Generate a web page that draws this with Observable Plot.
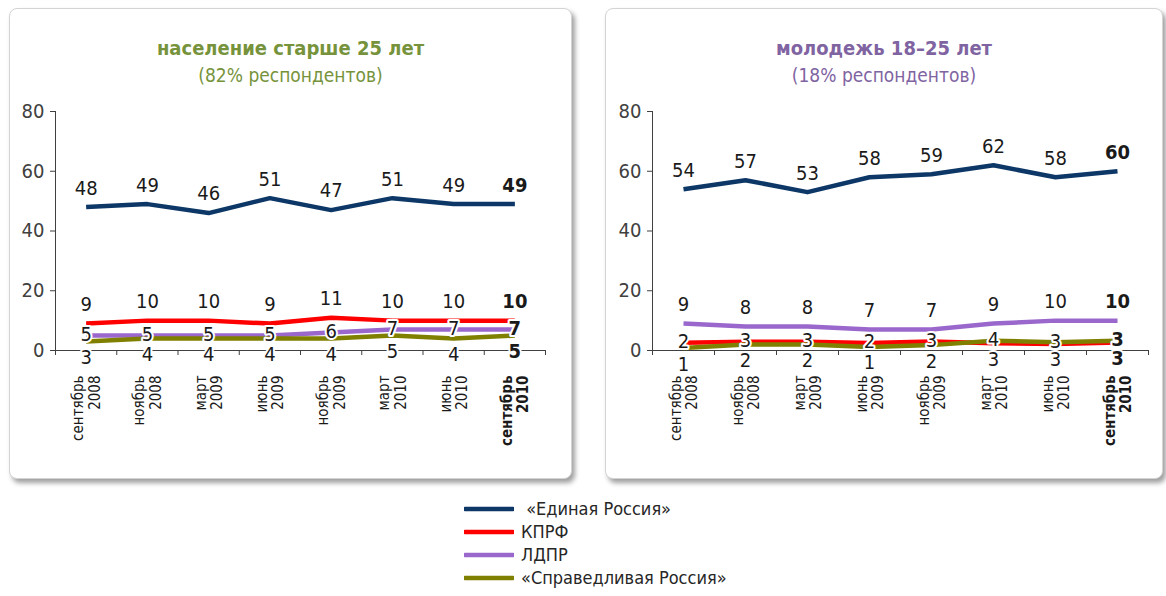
<!DOCTYPE html>
<html><head><meta charset="utf-8">
<script src="https://cdn.jsdelivr.net/npm/d3@7"></script>
<script src="https://cdn.jsdelivr.net/npm/@observablehq/plot@0.6"></script>
<style>
html,body{margin:0;padding:0;background:#fff}
body{width:1166px;height:596px;position:relative;overflow:hidden;font-family:"Liberation Sans Narrow","DejaVu Sans Condensed","Roboto",sans-serif;color:#262626}
.panel{position:absolute;top:8px;height:471px;box-sizing:border-box;background:#fff;border:1px solid #d4d4d4;border-radius:8px;box-shadow:3px 4px 5px rgba(0,0,0,0.38)}
.title{position:absolute;left:0;right:0;text-align:center;top:26px;font-size:20px;font-weight:bold;line-height:26px}
.sub{position:absolute;left:0;right:0;text-align:center;top:53px;font-size:19px;line-height:26px}
.chart{position:absolute;left:0;top:86px}
.ticks{position:absolute;left:0;top:366px}
.legend{position:absolute;left:464px;top:497px;font-size:18px;line-height:23px;color:#262626}
.legend div{display:flex;align-items:center;height:23px}
.legend svg{margin-right:7px}
</style></head>
<body>
<div class="panel" id="p1" style="left:9px;width:563px">
  <div class="title" style="color:#76933c">население старше 25 лет</div>
  <div class="sub" style="color:#76933c">(82% респондентов)</div>
  <div class="chart" id="c1"></div>
  <div class="ticks" id="t1"></div>
</div>
<div class="panel" id="p2" style="left:605px;width:558px">
  <div class="title" style="color:#8064a2">молодежь 18–25 лет</div>
  <div class="sub" style="color:#8064a2">(18% респондентов)</div>
  <div class="chart" id="c2"></div>
  <div class="ticks" id="t2"></div>
</div>
<div class="legend" id="legend"></div>
<script>
// Categories (tick labels)
const months = ["сентябрь","ноябрь","март","июнь","ноябрь","март","июнь","сентябрь"];
const years  = ["2008","2008","2009","2009","2009","2010","2010","2010"];
const yTicks = [0, 20, 40, 60, 80];

// Series names and colours
const seriesNames = ["«Единая Россия»", "КПРФ", "ЛДПР", "«Справедливая Россия»"];
const seriesColors = ["#0c3766", "#ff0000", "#9a68cc", "#808000"];

// население старше 25 лет
const erOld   = [48, 49, 46, 51, 47, 51, 49, 49];
const kprfOld = [9, 10, 10, 9, 11, 10, 10, 10];
const ldprOld = [5, 5, 5, 5, 6, 7, 7, 7];
const srOld   = [3, 4, 4, 4, 4, 5, 4, 5];

// молодежь 18–25 лет (printed values)
const erYoung   = [54, 57, 53, 58, 59, 62, 58, 60];
const ldprYoung = [9, 8, 8, 7, 7, 9, 10, 10];
const kprfYoung = [2, 3, 3, 2, 3, 3, 3, 3];
const srYoung   = [1, 2, 2, 1, 2, 4, 3, 3];
// молодежь: line heights (the two lines cross)
const kprfYoungLine = [2.6, 2.9, 2.9, 2.5, 3.0, 2.4, 2.2, 2.7];
const srYoungLine   = [0.8, 2.0, 2.0, 1.2, 1.8, 3.3, 2.8, 3.3];

const FONT = '"Liberation Sans Narrow","DejaVu Sans Condensed",sans-serif';
const idx = d3.range(months.length);

function drawPanel(el, tickEl, width, ml, mr, series, labels) {
  const lineRows = [];
  series.forEach((s, k) => s.values.forEach((v, i) => lineRows.push({k, i, v, color: s.color})));
  const labRows = [];
  labels.forEach(l => l.values.forEach((v, i) => labRows.push({i, v, t: String(l.labels[i]), mode: l.mode(i)})));
  const dyOf = {above: -19, on: -1, below: 16};
  const marks = [];
  marks.push(Plot.lineY(lineRows, {x: d => d.i + 0.5, y: "v", z: "k", stroke: "color", strokeWidth: 4.5, strokeLinejoin: "round", strokeLinecap: "butt"}));
  for (const mode of ["above", "on", "below"]) {
    const halo = mode !== "above";
    for (const bold of [false, true]) {
      const rows = labRows.filter(d => d.mode === mode && ((d.i === 7) === bold));
      marks.push(Plot.text(rows, {
        x: d => d.i + 0.5, y: "v", text: "t", dy: dyOf[mode],
        fontSize: 20, fontWeight: bold ? "bold" : "normal", fill: "#1a1a1a",
        fontFamily: FONT,
        stroke: halo ? "white" : null, strokeWidth: halo ? 4 : null
      }));
    }
  }
  const svg = Plot.plot({
    width, height: 280,
    marginLeft: ml, marginRight: mr, marginTop: 16, marginBottom: 25,
    style: {fontFamily: FONT, fontSize: "20px", color: "#404040", background: "transparent", overflow: "visible"},
    x: {type: "linear", domain: [0, 8], ticks: d3.range(9), tickSize: 5, tickFormat: () => "", line: true, label: null},
    y: {domain: [0, 80], ticks: yTicks, tickSize: 5, tickPadding: 6, line: true, label: null},
    marks
  });
  el.appendChild(svg);

  // rotated category labels (same x scale), anchored at the top of their own frame
  const tmarks = [];
  for (const bold of [false, true]) {
    tmarks.push(Plot.text(idx.filter(i => (i === 7) === bold), {
      x: i => i + 0.5, frameAnchor: "top", text: i => months[i] + "\n" + years[i],
      rotate: -90, textAnchor: "end", lineAnchor: "middle", lineHeight: 1.1,
      fontSize: 15, fontWeight: bold ? "bold" : "normal", fill: "#1a1a1a", fontFamily: FONT
    }));
  }
  const tsvg = Plot.plot({
    width, height: 80,
    marginLeft: ml, marginRight: mr, marginTop: 0, marginBottom: 0,
    style: {fontFamily: FONT, background: "transparent", overflow: "visible"},
    x: {type: "linear", domain: [0, 8], axis: null},
    y: {axis: null},
    marks: tmarks
  });
  tickEl.appendChild(tsvg);
}

drawPanel(document.getElementById("c1"), document.getElementById("t1"), 561, 45, 26,
  [
    {values: erOld, color: seriesColors[0]},
    {values: kprfOld, color: seriesColors[1]},
    {values: ldprOld, color: seriesColors[2]},
    {values: srOld, color: seriesColors[3]}
  ],
  [
    {values: erOld, labels: erOld, mode: () => "above"},
    {values: kprfOld, labels: kprfOld, mode: () => "above"},
    {values: ldprOld, labels: ldprOld, mode: () => "on"},
    {values: srOld, labels: srOld, mode: () => "below"}
  ]);

drawPanel(document.getElementById("c2"), document.getElementById("t2"), 556, 46, 14,
  [
    {values: erYoung, color: seriesColors[0]},
    {values: kprfYoungLine, color: seriesColors[1]},
    {values: ldprYoung, color: seriesColors[2]},
    {values: srYoungLine, color: seriesColors[3]}
  ],
  [
    {values: erYoung, labels: erYoung, mode: () => "above"},
    {values: ldprYoung, labels: ldprYoung, mode: () => "above"},
    {values: kprfYoungLine, labels: kprfYoung, mode: i => kprfYoungLine[i] >= srYoungLine[i] ? "on" : "below"},
    {values: srYoungLine, labels: srYoung, mode: i => srYoungLine[i] > kprfYoungLine[i] ? "on" : "below"}
  ]);

// Legend
const lg = document.getElementById("legend");
seriesNames.forEach((n, k) => {
  const row = document.createElement("div");
  row.innerHTML = `<svg width="50" height="8"><line x1="1" y1="4" x2="49" y2="4" stroke="${seriesColors[k]}" stroke-width="4.5" stroke-linecap="round"/></svg><span>${k === 0 ? "&nbsp;" : ""}${n}</span>`;
  lg.appendChild(row);
});
</script>
</body></html>
